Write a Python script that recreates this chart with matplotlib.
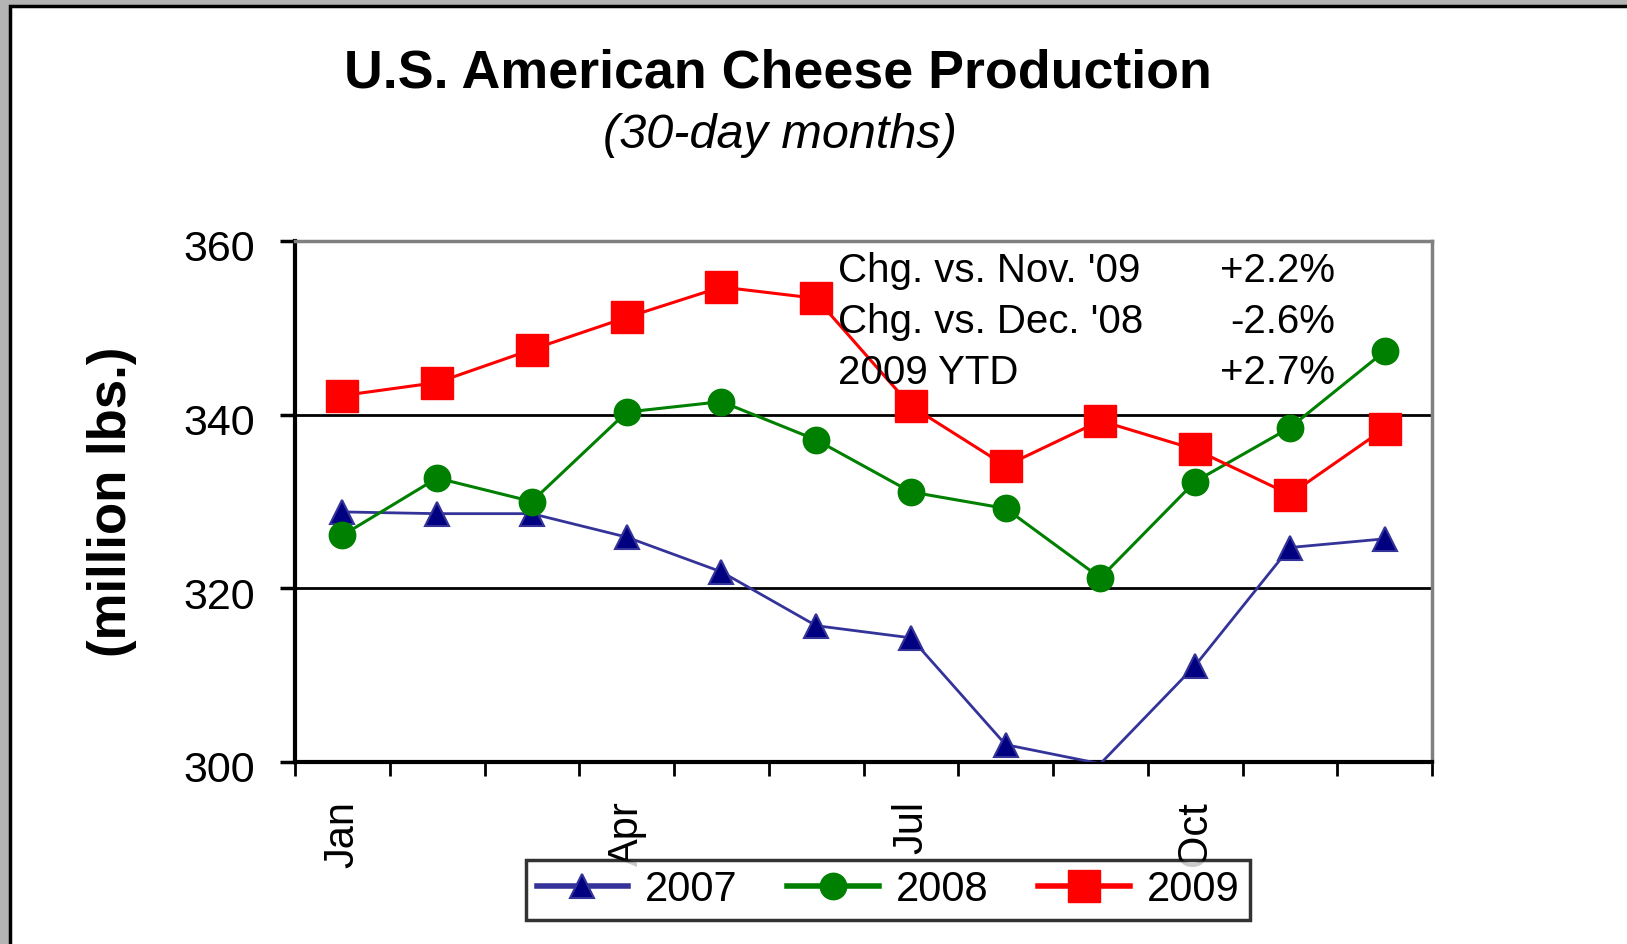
import numpy as np
import matplotlib.pyplot as plt
import matplotlib.transforms as mtransforms
from matplotlib.patches import Rectangle

months = ["Jan", "Feb", "Mar", "Apr", "May", "Jun",
          "Jul", "Aug", "Sep", "Oct", "Nov", "Dec"]
shown_months = ["Jan", "Apr", "Jul", "Oct"]

prod_2007 = [328.8, 328.6, 328.6, 325.9, 321.9, 315.7,
             314.3, 302.0, 299.8, 311.1, 324.7, 325.7]
prod_2008 = [326.1, 332.7, 330.0, 340.3, 341.5, 337.1,
             331.1, 329.2, 321.2, 332.3, 338.5, 347.3]
prod_2009 = [342.2, 343.7, 347.5, 351.2, 354.7, 353.4,
             341.0, 334.1, 339.3, 336.0, 330.8, 338.4]

chg_labels = ["Chg. vs. Nov. '09", "Chg. vs. Dec. '08", "2009 YTD"]
chg_values = ["+2.2%", "-2.6%", "+2.7%"]

plt.rcParams['font.family'] = ['Liberation Sans', 'DejaVu Sans']

W, H = 1627, 944
fig = plt.figure(figsize=(W / 100, H / 100), dpi=100)
fig.patch.set_facecolor('#b4b4b4')
# white chart area with black frame on grey background
fig.patches.append(Rectangle((10 / W, -0.1), 1.2, 1.1 - 6 / H, transform=fig.transFigure,
                             facecolor='white', edgecolor='black', linewidth=2.5, zorder=-5))

ax = fig.add_axes([295 / W, 1 - 762 / H, (1432 - 295) / W, (762 - 241) / H])
ax.set_zorder(2)
ax.set_facecolor('white')

x = np.arange(len(months))
ymin, ymax = 300, 360

# hide markers that fall below the axis, as the original does
vis07 = [i for i, v in enumerate(prod_2007) if v >= ymin]
ax.plot(x, prod_2007, color='#333399', lw=2.0, marker='^', markersize=17,
        markerfacecolor='#000080', markeredgecolor='#333399', markeredgewidth=1.5,
        markevery=vis07, label='2007', zorder=3)
ax.plot(x, prod_2008, color='#008000', lw=2.2, marker='o', markersize=19,
        markerfacecolor='#008000', markeredgecolor='#008000', label='2008', zorder=4)
ax.plot(x, prod_2009, color='#ff0000', lw=2.2, marker='s', markersize=23,
        markerfacecolor='#ff0000', markeredgecolor='#ff0000', label='2009', zorder=5)

ax.set_xlim(-0.5, 11.5)
ax.set_ylim(ymin, ymax)
ax.set_yticks([300, 320, 340, 360])
ax.tick_params(axis='y', length=11, width=2.5, direction='out', labelsize=31, pad=18)
shift = mtransforms.ScaledTranslation(0, -5 / 100, fig.dpi_scale_trans)
for t in ax.get_yticklabels():
    t.set_transform(t.get_transform() + shift)

ax.set_xticks([months.index(m) for m in shown_months])
ax.set_xticklabels(shown_months, rotation=90, va='top')
ax.set_xticks(np.arange(-0.5, 12, 1), minor=True)
ax.tick_params(axis='x', which='major', length=0, labelsize=30, pad=28)
ax.tick_params(axis='x', which='minor', length=10, width=2)

for v in [320, 340]:
    ax.axhline(v, color='black', lw=2, zorder=1)
for s in ['left', 'bottom']:
    ax.spines[s].set_linewidth(3)
    ax.spines[s].set_color('black')
for s in ['top', 'right']:
    ax.spines[s].set_linewidth(2.5)
    ax.spines[s].set_color('#808080')

ax.set_ylabel('(million lbs.)', fontsize=38, fontweight='bold', labelpad=0)
ax.yaxis.set_label_coords((137 - 295) / (1432 - 295), 0.5)

for i, (lab, val) in enumerate(zip(chg_labels, chg_values)):
    ax.text(838 / W, 1 - (271 + 51 * i) / H, lab, transform=fig.transFigure,
            fontsize=29, va='center', ha='left', zorder=6)
    ax.text(1335 / W, 1 - (271 + 51 * i) / H, val, transform=fig.transFigure,
            fontsize=29, va='center', ha='right', zorder=6)

fig.text(778 / W, 1 - 73 / H, 'U.S. American Cheese Production', fontsize=38.7,
         fontweight='bold', ha='center', va='center')
fig.text(780 / W, 1 - 136 / H, '(30-day months)', fontsize=35, style='italic',
         ha='center', va='center')

leg = fig.legend(loc='center', bbox_to_anchor=(888 / W, 1 - 890 / H), ncol=3,
                 fontsize=30, frameon=True, fancybox=False, handlelength=2.2,
                 columnspacing=1.2, handletextpad=0.4, borderpad=0.25)
leg.set_zorder(10)
leg.get_frame().set_edgecolor('black')
leg.get_frame().set_linewidth(2.5)
for h in leg.legend_handles:
    h.set_linewidth(4)

fig.savefig('out.png', dpi=100, facecolor=fig.get_facecolor())
